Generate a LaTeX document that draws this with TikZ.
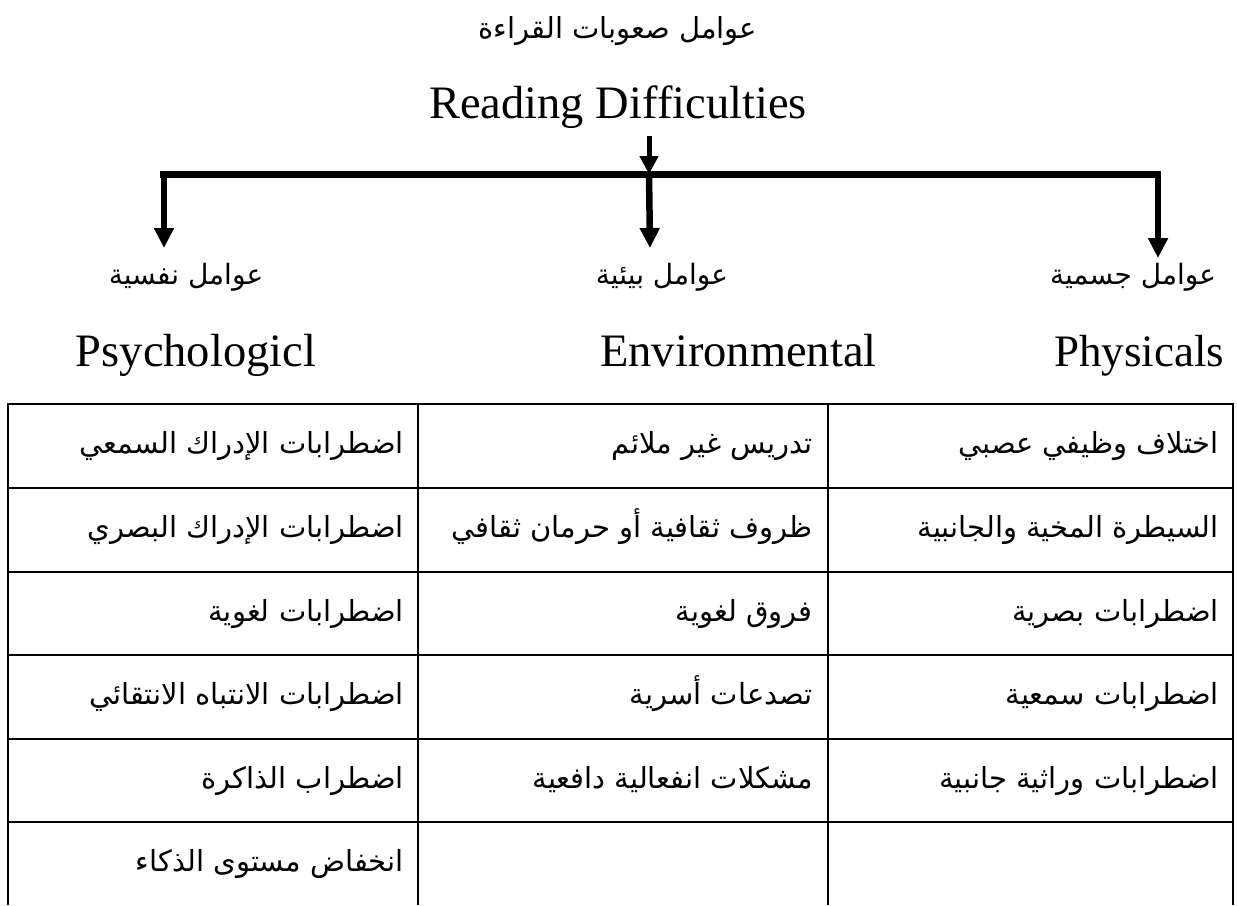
\documentclass[tikz,border=0pt]{standalone}
\usepackage{fontspec}
\setmainfont{Liberation Serif}
\newfontfamily\arabicfont[Script=Arabic]{DejaVu Sans}
\TeXXeTstate=1
\usetikzlibrary{arrows.meta}
\newcommand{\ar}[1]{{\arabicfont\beginR #1\endR}}
\tikzset{
  entxt/.style={inner sep=0pt, anchor=base, font=\fontsize{46.5}{52}\selectfont},
  artxt/.style={inner sep=0pt, anchor=base, font=\arabicfont\fontsize{28}{34}\selectfont},
  celltxt/.style={inner sep=0pt, anchor=base east, font=\arabicfont\fontsize{29}{35}\selectfont},
  bigarrow/.style={line width=6.5pt, -{Triangle[length=20pt,width=19pt]}},
  smallarrow/.style={line width=5pt, -{Triangle[length=18pt,width=18pt]}},
  barline/.style={line width=7pt},
  grid/.style={line width=2.8pt}
}
\begin{document}
\begin{tikzpicture}[x=1pt,y=-1pt]
\useasboundingbox (0,0) rectangle (1237,905);
% titles
\node[artxt, font=\arabicfont\fontsize{29}{35}\selectfont] (tar) at (618,38) {\ar{عوامل صعوبات القراءة}};
\node[entxt] (ten) at (618,118) {Reading Difficulties};
% connectors
\coordinate (sa) at (649,136);
\coordinate (barL) at (160,174);
\coordinate (barM) at (649,174);
\coordinate (barR) at (1161,174);
\coordinate (ls) at (164,174);
\coordinate (rs) at (1158,177);
\coordinate (tipL) at (164,248);
\coordinate (tipM) at (650,248);
\coordinate (tipR) at (1158,258);
\draw[smallarrow] (sa) -- (barM);
\draw[barline] (barL) -- (barR);
\draw[bigarrow] (ls) -- (tipL);
\draw[bigarrow] (barM) -- (tipM);
\draw[bigarrow] (rs) -- (tipR);
% category labels
\node[artxt] (lpsy) at (186,284) {\ar{عوامل نفسية}};
\node[artxt] (lenv) at (662,284) {\ar{عوامل بيئية}};
\node[artxt] (lphy) at (1133,284) {\ar{عوامل جسمية}};
\node[entxt] (epsy) at (196,366) {Psychologicl};
\node[entxt] (eenv) at (738.5,366) {Environmental};
\node[entxt, font=\fontsize{45}{50}\selectfont] (ephy) at (1139,366) {Physicals};
% table grid
\draw[grid] (8,905) -- (8,404) -- (1233,404) -- (1233,905);
\draw[grid] (418,404) -- (418,905);
\draw[grid] (828,404) -- (828,905);
\foreach \yy in {488,572,655,739,822} \draw[grid] (8,\yy) -- (1233,\yy);
% right column
\node[celltxt] (r1) at (1219,453) {\ar{اختلاف وظيفي عصبي}};
\node[celltxt] (r2) at (1219,537) {\ar{السيطرة المخية والجانبية}};
\node[celltxt] (r3) at (1219,621) {\ar{اضطرابات بصرية}};
\node[celltxt] (r4) at (1219,704) {\ar{اضطرابات سمعية}};
\node[celltxt] (r5) at (1219,788) {\ar{اضطرابات وراثية جانبية}};
% middle column
\node[celltxt] (m1) at (813,453) {\ar{تدريس غير ملائم}};
\node[celltxt] (m2) at (813,537) {\ar{ظروف ثقافية أو حرمان ثقافي}};
\node[celltxt] (m3) at (813,621) {\ar{فروق لغوية}};
\node[celltxt] (m4) at (813,704) {\ar{تصدعات أسرية}};
\node[celltxt] (m5) at (813,788) {\ar{مشكلات انفعالية دافعية}};
% left column
\node[celltxt] (p1) at (404,453) {\ar{اضطرابات الإدراك السمعي}};
\node[celltxt] (p2) at (404,537) {\ar{اضطرابات الإدراك البصري}};
\node[celltxt] (p3) at (404,621) {\ar{اضطرابات لغوية}};
\node[celltxt] (p4) at (404,704) {\ar{اضطرابات الانتباه الانتقائي}};
\node[celltxt] (p5) at (404,788) {\ar{اضطراب الذاكرة}};
\node[celltxt] (p6) at (404,871) {\ar{انخفاض مستوى الذكاء}};
\end{tikzpicture}
\end{document}
